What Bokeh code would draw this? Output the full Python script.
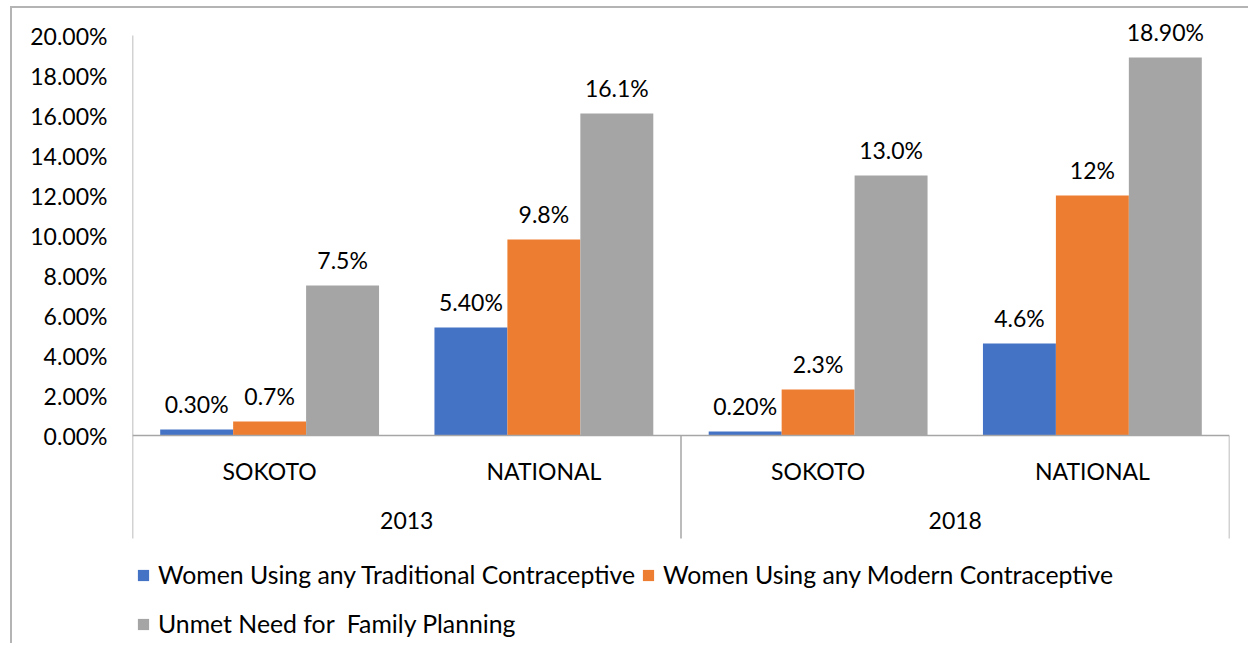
from bokeh.plotting import figure
from bokeh.models import (FactorRange, Range1d, FixedTicker, PrintfTickFormatter,
                          Legend, LegendItem, ColumnDataSource)
from bokeh.transform import dodge
from bokeh.core.properties import value
from bokeh.embed import file_html
from bokeh.resources import INLINE

# ---------------- data ----------------
years = ["2013", "2018"]
sites = ["SOKOTO", "NATIONAL"]
series_names = ["Women Using any Traditional Contraceptive",
                "Women Using any Modern Contraceptive",
                "Unmet Need for  Family Planning"]
traditional = [0.3, 5.4, 0.2, 4.6]
modern = [0.7, 9.8, 2.3, 12.0]
unmet = [7.5, 16.1, 13.0, 18.9]
traditional_labels = ["0.30%", "5.40%", "0.20%", "4.6%"]
modern_labels = ["0.7%", "9.8%", "2.3%", "12%"]
unmet_labels = ["7.5%", "16.1%", "13.0%", "18.90%"]
y_ticks = [0, 2, 4, 6, 8, 10, 12, 14, 16, 18, 20]
colors = ["#4472C4", "#ED7D31", "#A5A5A5"]

FONT = "Lato"
FS = "23px"
LEG_FS = "24.8px"
AXIS_GRAY = "#a6a6a6"

factors = [(y, s) for y in years for s in sites]
src = ColumnDataSource(dict(
    x=factors,
    traditional=traditional, modern=modern, unmet=unmet,
    traditional_labels=traditional_labels, modern_labels=modern_labels,
    unmet_labels=unmet_labels,
))

x_range = FactorRange(*factors, factor_padding=0, group_padding=0,
                      subgroup_padding=0, range_padding=0)

p = figure(width=1238, height=637, x_range=x_range, y_range=Range1d(-10.5, 21),
           output_backend="svg", toolbar_location=None,
           min_border_left=120, min_border_right=21,
           min_border_top=7, min_border_bottom=0)
p.styles = {"margin-left": "10px", "margin-top": "6px",
            "border-left": "2px solid #b4b4b4", "border-top": "2px solid #b4b4b4"}

p.xaxis.visible = False
p.xgrid.visible = False
p.ygrid.visible = False
p.outline_line_color = None

yax = p.yaxis[0]
yax.ticker = FixedTicker(ticks=y_ticks)
yax.formatter = PrintfTickFormatter(format="%.2f%%")
yax.axis_line_color = None
yax.major_tick_line_color = None
yax.minor_tick_line_color = None
yax.major_tick_out = 0
yax.major_tick_in = 0
yax.major_label_standoff = 25
yax.major_label_text_font = FONT
yax.major_label_text_font_size = FS
yax.major_label_text_color = "black"

bar_w = 0.266
cols = ["traditional", "modern", "unmet"]
renderers = []
for i, (c, col) in enumerate(zip(cols, colors)):
    off = (i - 1) * bar_w
    r = p.vbar(x=dodge("x", off, range=p.x_range), top=c, width=bar_w,
               source=src, fill_color=col, line_color=None)
    renderers.append(r)
    p.text(x=dodge("x", off, range=p.x_range), y=c, text=c + "_labels",
           source=src, y_offset=-26, text_align="center", text_baseline="middle",
           text_font=value(FONT), text_font_size=FS, text_color="black")

# axis structure lines
n = len(sites)
bounds = [i * n for i in range(len(years) + 1)]
p.segment(x0=[bounds[0]], y0=[y_ticks[-1]], x1=[bounds[0]], y1=[-5.15],
          line_color=AXIS_GRAY, line_width=1.5)
p.segment(x0=bounds[1:], y0=[0] * len(bounds[1:]), x1=bounds[1:],
          y1=[-5.15] * len(bounds[1:]), line_color=AXIS_GRAY, line_width=1.5)
p.segment(x0=[bounds[0]], y0=[0], x1=[bounds[-1]], y1=[0],
          line_color=AXIS_GRAY, line_width=1.5)

# category labels
p.text(x=factors, y=[-1.75] * len(factors), text=[f[1] for f in factors],
       text_align="center", text_baseline="middle",
       text_font=value(FONT), text_font_size=FS, text_color="black")
p.text(x=years, y=[-4.25] * len(years), text=years,
       text_align="center", text_baseline="middle",
       text_font=value(FONT), text_font_size=FS, text_color="black")

def make_legend(items, loc):
    lg = Legend(items=items, orientation="horizontal", location=loc)
    lg.label_text_font = FONT
    lg.label_text_font_size = LEG_FS
    lg.label_text_color = "black"
    lg.glyph_width = 14
    lg.glyph_height = 14
    lg.label_standoff = 8
    lg.spacing = 6
    lg.padding = 0
    lg.margin = 0
    lg.border_line_color = None
    lg.background_fill_alpha = 0
    return lg

leg1 = make_legend([LegendItem(label=series_names[0], renderers=[renderers[0]]),
                    LegendItem(label=series_names[1], renderers=[renderers[1]])], (4, 56))
leg2 = make_legend([LegendItem(label=series_names[2], renderers=[renderers[2]])], (4, 7))
p.add_layout(leg1)
p.add_layout(leg2)

open("out.html", "w").write(file_html(p, INLINE))
